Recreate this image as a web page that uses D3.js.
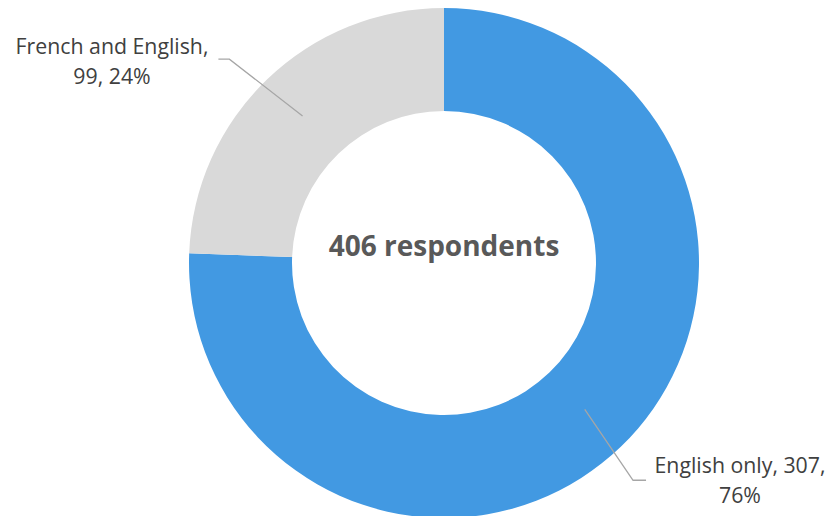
<!DOCTYPE html>
<html>
<head>
<meta charset="utf-8">
<script src="https://cdn.jsdelivr.net/npm/d3@7"></script>
<style>
  html, body { margin: 0; padding: 0; background: #ffffff; }
  svg { display: block; }
</style>
</head>
<body>
<svg id="chart" width="829" height="516"></svg>
<script>
// Survey respondents by language of response
const categories = ["English only", "French and English"];
const counts = [307, 99];
const colors = ["#4299E2", "#D9D9D9"];
const centerLabel = "406 respondents";

const width = 829, height = 516;
const cx = 444, cy = 263;
const outerR = 255, innerR = 152;
const fontFamily = "'Open Sans', Lato, sans-serif";

const svg = d3.select("#chart");
const g = svg.append("g").attr("transform", `translate(${cx},${cy})`);

const total = d3.sum(counts);
const data = categories.map((c, i) => ({ name: c, value: counts[i], color: colors[i] }));

const pie = d3.pie().value(d => d.value).sort(null);
const arc = d3.arc().innerRadius(innerR).outerRadius(outerR);
const arcs = pie(data);

g.selectAll("path.slice")
  .data(arcs)
  .enter().append("path")
  .attr("class", "slice")
  .attr("d", arc)
  .attr("fill", d => d.data.color);

// Center total
g.append("text")
  .attr("x", 0).attr("y", -7)
  .attr("text-anchor", "middle")
  .attr("font-family", fontFamily)
  .attr("font-weight", "bold")
  .attr("font-size", 28)
  .attr("fill", "#595959")
  .text(centerLabel);

// Leader lines and labels placed relative to each slice's midpoint direction
const pct = d => Math.round(d.value / total * 100) + "%";
const labelSpecs = [
  { // English only
    lines: d => [`${d.data.name}, ${d.data.value},`, pct(d.data)],
    r0: 203, kneeR: 288, kneeTurn: 0.05, tail: 13, textX: 296, textY: 210
  },
  { // French and English
    lines: d => [`${d.data.name},`, `${d.data.value}, ${pct(d.data)}`],
    r0: 204, kneeR: 296, kneeTurn: -0.045, tail: -11, textX: -332, textY: -209
  }
];

const polar = (r, a) => [Math.sin(a) * r, -Math.cos(a) * r];

arcs.forEach((d, i) => {
  const spec = labelSpecs[i];
  const mid = (d.startAngle + d.endAngle) / 2;
  const p0 = polar(spec.r0, mid);
  const p1 = polar(spec.kneeR, mid + spec.kneeTurn);
  const p2 = [p1[0] + spec.tail, p1[1]];
  g.append("polyline")
    .attr("points", [p0, p1, p2].map(p => p.join(",")).join(" "))
    .attr("fill", "none")
    .attr("stroke", "#A6A6A6")
    .attr("stroke-width", 1.3);

  const t = g.append("text")
    .attr("text-anchor", "middle")
    .attr("font-family", fontFamily)
    .attr("font-size", 21.3)
    .attr("fill", "#404040");
  spec.lines(d).forEach((line, k) => {
    t.append("tspan")
      .attr("x", spec.textX)
      .attr("y", spec.textY + k * 29.5)
      .text(line);
  });
});
</script>
</body>
</html>
